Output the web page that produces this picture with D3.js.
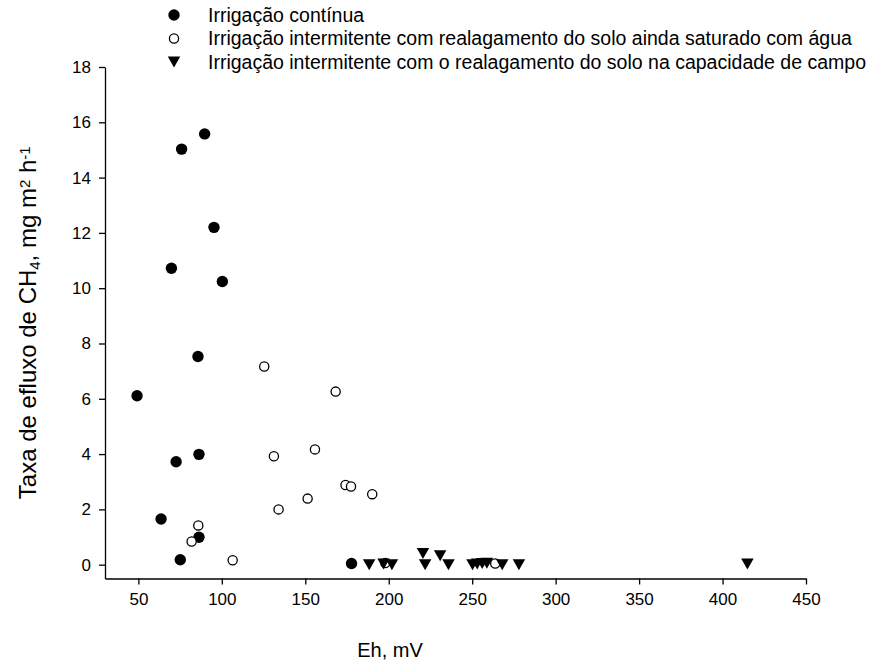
<!DOCTYPE html>
<html>
<head>
<meta charset="utf-8">
<script src="https://cdn.jsdelivr.net/npm/d3@7"></script>
<style>
  html, body { margin: 0; padding: 0; background: #fff; }
  svg text { font-family: "Liberation Sans", Arial, sans-serif; fill: #000; }
</style>
</head>
<body>
<svg id="chart" width="880" height="663"></svg>
<script>
// Irrigação contínua
const continuaEh  = [89.7, 75.9, 95.3, 69.8, 100.3, 85.7, 49.2, 72.6, 86.3, 63.6, 75.1, 86.3, 177.7];
const continuaCH4 = [15.58, 15.03, 12.2, 10.72, 10.24, 7.53, 6.11, 3.72, 3.99, 1.65, 0.18, 0.99, 0.04];

// Irrigação intermitente, realagamento com solo ainda saturado
const saturadoEh  = [125.4, 168.2, 131.2, 155.8, 85.9, 81.9, 106.5, 134.0, 151.4, 174.1, 177.4, 190.1, 197.9, 263.8];
const saturadoCH4 = [7.17, 6.26, 3.92, 4.17, 1.42, 0.84, 0.16, 2.0, 2.39, 2.88, 2.83, 2.55, 0.06, 0.04];

// Irrigação intermitente, realagamento na capacidade de campo
const capacidadeEh  = [188.3, 196.9, 201.9, 220.5, 221.8, 230.8, 235.8, 250.2, 253.0, 256.0, 258.8, 268.0, 278.0, 414.9];
const capacidadeCH4 = [0.0, 0.02, 0.0, 0.40, 0.0, 0.32, 0.0, 0.0, 0.02, 0.04, 0.05, 0.0, 0.0, 0.02];

const xTicks = [50, 100, 150, 200, 250, 300, 350, 400, 450];
const yTicks = [0, 2, 4, 6, 8, 10, 12, 14, 16, 18];

const legendLabels = [
  "Irrigação contínua",
  "Irrigação intermitente com realagamento do solo ainda saturado com água",
  "Irrigação intermitente com o realagamento do solo na capacidade de campo"
];

const svg = d3.select("#chart");

const x = d3.scaleLinear().domain([30, 450]).range([105, 806]);
const y = d3.scaleLinear().domain([-0.5, 18]).range([578.5, 67]);

// axes
const xAxis = svg.append("g")
  .attr("transform", `translate(0,${y(-0.5)})`)
  .call(d3.axisBottom(x).tickValues(xTicks).tickSize(6).tickSizeOuter(0).tickPadding(8));
const yAxis = svg.append("g")
  .attr("transform", `translate(${x(30)},0)`)
  .call(d3.axisLeft(y).tickValues(yTicks).tickSize(6).tickSizeOuter(0).tickPadding(8));

[xAxis, yAxis].forEach(g => {
  g.selectAll("path.domain").attr("stroke", "#000").attr("stroke-width", 1.3);
  g.selectAll(".tick line").attr("stroke", "#000").attr("stroke-width", 1.3);
  g.selectAll(".tick text").style("font-size", "17px").attr("fill", "#000");
});

// axis titles
svg.append("text")
  .attr("x", 390).attr("y", 657)
  .attr("text-anchor", "middle")
  .style("font-size", "20px")
  .text("Eh, mV");

const yt = svg.append("text")
  .attr("transform", `translate(36,${(y(-0.5) + y(18)) / 2}) rotate(-90)`)
  .attr("text-anchor", "middle")
  .style("font-size", "24px");
yt.append("tspan").text("Taxa de efluxo de CH");
yt.append("tspan").attr("baseline-shift", "-25%").style("font-size", "15px").text("4");
yt.append("tspan").text(", mg m");
yt.append("tspan").attr("baseline-shift", "40%").style("font-size", "15px").text("2");
yt.append("tspan").text(" h");
yt.append("tspan").attr("baseline-shift", "40%").style("font-size", "15px").text("-1");

// marker drawers
const triPath = (w, h) => `M${-w / 2},${-h / 2}L${w / 2},${-h / 2}L0,${h / 2}Z`;

function drawFilled(g, cx, cy) {
  g.append("circle").attr("cx", cx).attr("cy", cy).attr("r", 5.7).attr("fill", "#000");
}
function drawOpen(g, cx, cy) {
  g.append("circle").attr("cx", cx).attr("cy", cy).attr("r", 4.6)
    .attr("fill", "#fff").attr("stroke", "#000").attr("stroke-width", 1.3);
}
function drawTri(g, cx, cy) {
  g.append("path").attr("d", triPath(12.5, 11)).attr("transform", `translate(${cx},${cy})`).attr("fill", "#000");
}

const pts = svg.append("g");
continuaEh.forEach((v, i) => drawFilled(pts, x(v), y(continuaCH4[i])));
saturadoEh.forEach((v, i) => drawOpen(pts, x(v), y(saturadoCH4[i])));
capacidadeEh.forEach((v, i) => drawTri(pts, x(v), y(capacidadeCH4[i])));

// legend
const legend = svg.append("g");
const drawers = [drawFilled, drawOpen, drawTri];
legendLabels.forEach((lab, i) => {
  const cy = 15 + i * 23.5;
  drawers[i](legend, 174, cy);
  legend.append("text").attr("x", 208).attr("y", cy).attr("dy", "0.35em")
    .style("font-size", "19.5px").text(lab);
});
</script>
</body>
</html>
